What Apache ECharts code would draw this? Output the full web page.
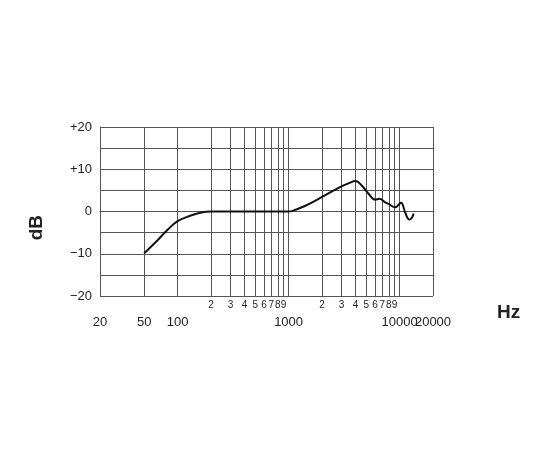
<!DOCTYPE html>
<html><head><meta charset="utf-8">
<script src="https://cdn.jsdelivr.net/npm/echarts@6/dist/echarts.min.js"></script>
<style>html,body{margin:0;padding:0;background:#fff}#c{width:550px;height:450px}</style>
</head><body><div id="c"></div>
<script>
const freqs = [50, 65, 80, 100, 130, 160, 200, 500, 1000, 1070, 1400, 1930, 2820, 3500, 4017, 4580, 5250, 6040, 6600, 7300, 7940, 9130, 10300, 11250, 12200, 12800, 13400];
const dB    = [-9.9, -7, -4.5, -2.3, -1, -0.3, 0, 0, 0, 0.1, 1.3, 3.2, 5.6, 6.7, 7.2, 6.1, 4.2, 2.8, 3.0, 2.3, 1.8, 1.0, 2.1, -0.3, -1.9, -1.6, -0.5];
const minorGrid = [200,300,400,500,600,700,800,900,2000,3000,4000,5000,6000,7000,8000,9000];
const minorLabels = ['2','3','4','5','6','7','8','9','2','3','4','5','6','7','8','9'];
const majorGrid = [20,50,100,1000,10000,20000];
const majorLabels = ['20','50','100','1000','10000','20000'];
const yTicks = {'20':'+20','10':'+10','0':'0','-10':'\u221210','-20':'\u221220'};

const font = 'Liberation Sans';
const lineC = '#555';
const chart = echarts.init(document.getElementById('c'));
chart.setOption({
  animation:false,
  grid:{left:100,right:117,top:127,bottom:154},
  xAxis:{type:'log',min:20,max:20000,logBase:10,
    axisLine:{lineStyle:{color:lineC}},axisTick:{show:false},axisLabel:{show:false},splitLine:{show:false}},
  yAxis:{type:'value',min:-20,max:20,interval:5,
    axisLine:{show:true,lineStyle:{color:lineC}},axisTick:{show:false},
    splitLine:{lineStyle:{color:lineC,width:1}},
    axisLabel:{fontFamily:font,fontSize:13,color:'#222',margin:8,
      formatter:v=>yTicks[String(v)]||''}},
  graphic:[
    {type:'text',left:27,top:215,rotation:Math.PI/2,style:{text:'dB',font:'bold 19px Liberation Sans',fill:'#222'}},
    {type:'text',left:497,top:303,style:{text:'Hz',font:'bold 19px Liberation Sans',fill:'#222'}}
  ],
  series:[{
    type:'line',smooth:0.4,symbol:'none',
    data:freqs.map((f,i)=>[f,dB[i]]),
    lineStyle:{color:'#111',width:2},z:5,
    markLine:{silent:true,symbol:'none',animation:false,
      lineStyle:{color:lineC,width:1,type:'solid'},
      data:[
        ...minorGrid.map((f,i)=>({xAxis:f,label:{show:true,position:'start',distance:4,formatter:minorLabels[i],fontFamily:font,fontSize:10,color:'#222'}})),
        ...majorGrid.map((f,i)=>({xAxis:f,label:{show:true,position:'start',distance:[i===5?10:0,20],formatter:majorLabels[i],fontFamily:font,fontSize:13,color:'#222'}}))
      ]}
  }]
});
</script></body></html>
